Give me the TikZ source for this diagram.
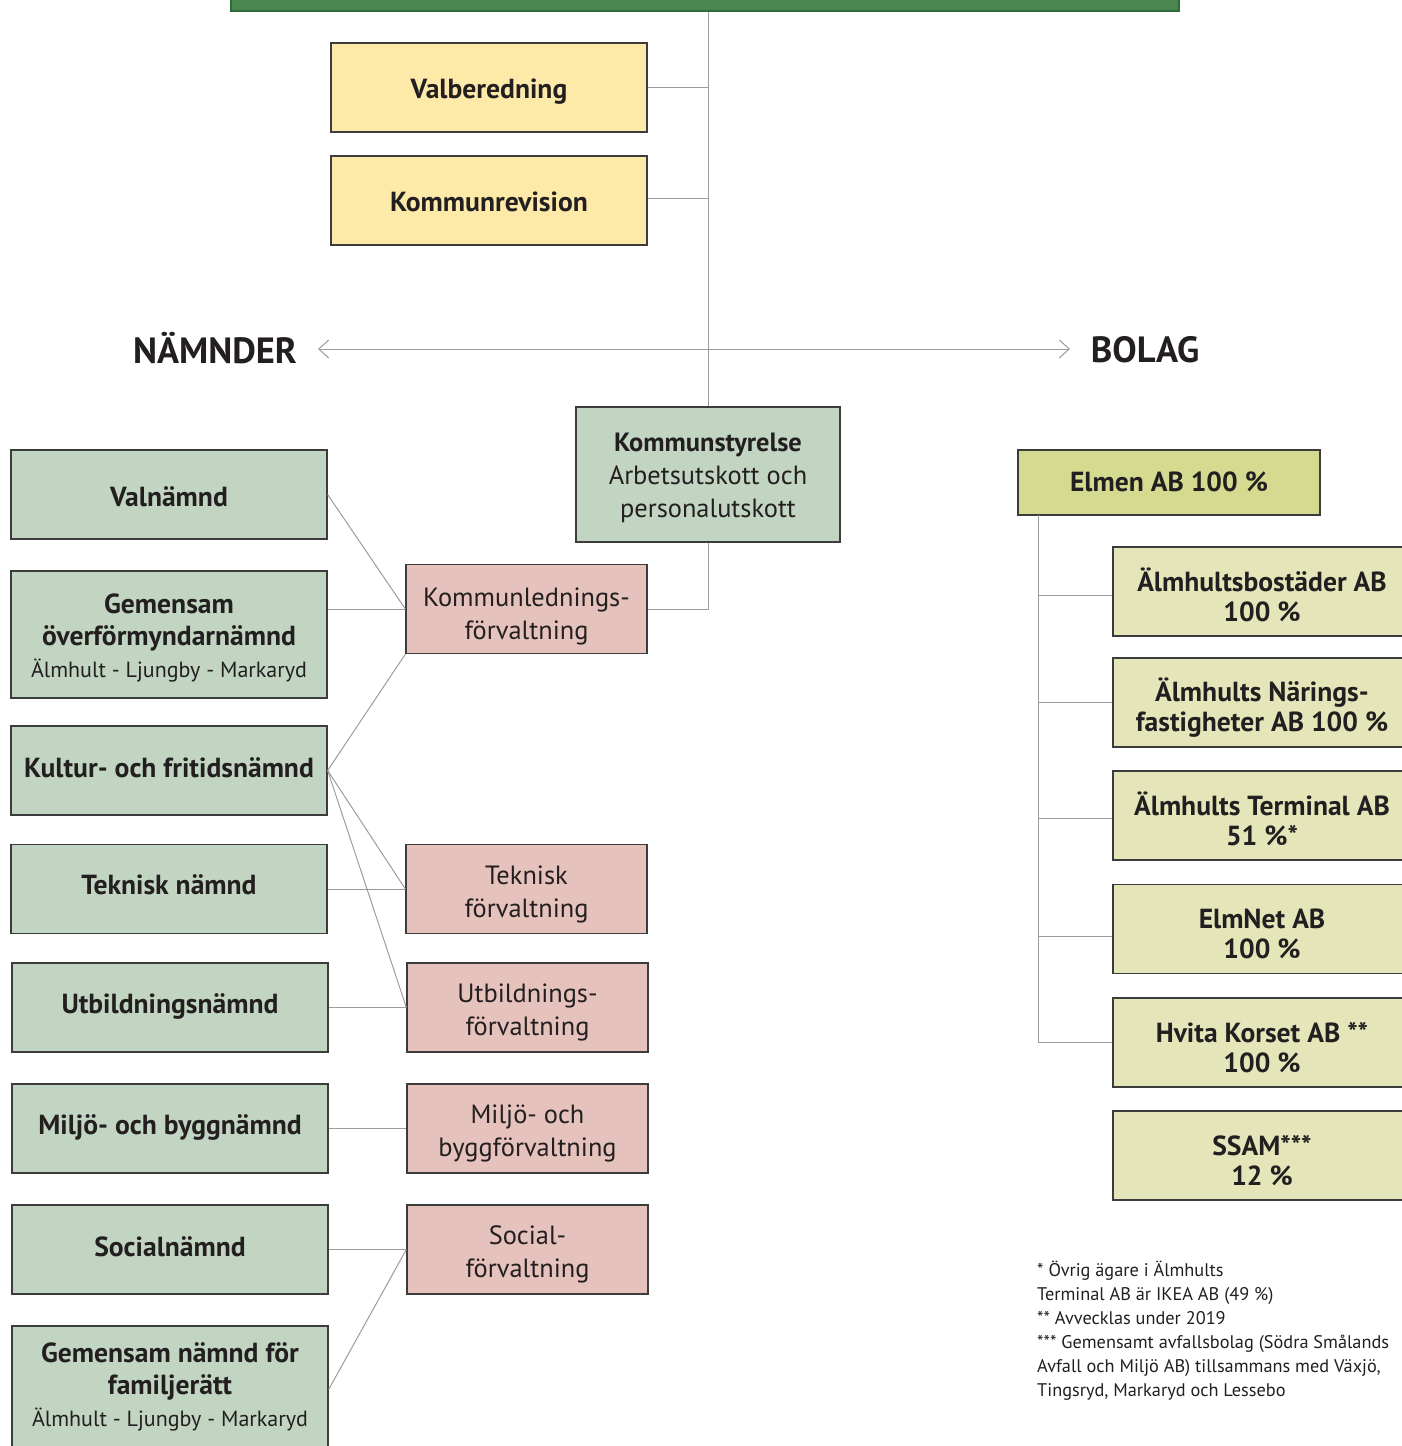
\documentclass[tikz,border=0pt]{standalone}
\usepackage{fontspec}
\setmainfont{PT Sans}
\usetikzlibrary{arrows.meta}
\definecolor{topgreen}{HTML}{4A8650}
\definecolor{topline}{HTML}{2E6B38}
\definecolor{yel}{HTML}{FDE9A8}
\definecolor{grn}{HTML}{C1D5C2}
\definecolor{pnk}{HTML}{E6C2BC}
\definecolor{elm}{HTML}{D5DA91}
\definecolor{sub}{HTML}{E4E6BA}
\definecolor{boxline}{HTML}{3C3C3C}
\definecolor{conn}{HTML}{9C9C9C}
\definecolor{txt}{HTML}{231F20}
\newcommand\myB{\fontsize{27.6}{32}\selectfont\bfseries}
\newcommand\myR{\fontsize{26.4}{33}\selectfont}
\newcommand\mySm{\fontsize{22}{33}\selectfont\mdseries}
\newcommand\myHead{\fontsize{36.5}{40}\selectfont\bfseries}
\newcommand\mySub{\fontsize{27.6}{30}\selectfont\bfseries}
\newcommand\myNote{\fontsize{18.3}{24}\selectfont}
% \bx{box style}{text font}{name}{x,y}{shift down}{text}
\newcommand\bx[6]{%
  \node[#1] (#3) at (#4) {};
  \node[tnode, font=#2] (#3t) at ([yshift=-#5pt]#3.center) {#6};}
\begin{document}
\begin{tikzpicture}[x=1pt,y=-1pt,
  box/.style={draw=boxline, line width=1.3pt, inner sep=0pt},
  tnode/.style={inner sep=0pt, align=center, text=txt},
  ybox/.style={box, fill=yel, minimum width=316pt, minimum height=89pt},
  gbox/.style={box, fill=grn, minimum width=316pt, minimum height=89pt},
  gtall/.style={gbox, minimum height=127pt},
  ksbox/.style={box, fill=grn, minimum width=264pt, minimum height=135pt},
  pbox/.style={box, fill=pnk, minimum width=241pt, minimum height=89pt},
  ebox/.style={box, fill=elm, minimum width=302pt, minimum height=65pt},
  sbox/.style={box, fill=sub, minimum width=298pt, minimum height=89pt},
  head/.style={inner sep=0pt, text=txt, font=\myHead},
  cn/.style={draw=conn, line width=1pt},
  biarrow/.style={draw=conn, line width=1pt, {Straight Barb[length=10pt,width=18pt,line width=1pt]}-{Straight Barb[length=10pt,width=18pt,line width=1pt]}}
]
\useasboundingbox (0,0) rectangle (1402,1446);
\clip (0,0) rectangle (1402,1446);

% top bar
\node[draw=topline, line width=1.5pt, fill=topgreen, minimum width=948pt, minimum height=24pt, inner sep=0pt] (top) at (705,-1) {};

% yellow
\bx{ybox}{\myB}{valb}{489,87.5}{4}{Valberedning}
\bx{ybox}{\myB}{krev}{489,200.5}{1}{Kommunrevision}

% headings
\node[head] (nam) at (215,348) {NÄMNDER};
\node[head] (bol) at (1145,350) {BOLAG};
\coordinate (al) at (318,349);
\coordinate (ar) at (1070,349);

% Kommunstyrelse
\bx{ksbox}{\myR}{ks}{708,474.5}{3.5}{{\bfseries Kommunstyrelse}\\Arbetsutskott och\\personalutskott}

% pink
\bx{pbox}{\myR}{klf}{526.5,609}{7}{Kommunlednings-\\förvaltning}
\bx{pbox}{\myR}{tekf}{526.5,889}{5}{Teknisk\\förvaltning}
\bx{pbox}{\myR}{utbf}{527.5,1007.5}{5}{Utbildnings-\\förvaltning}
\bx{pbox}{\myR}{milf}{527.5,1128.5}{5}{Miljö- och\\byggförvaltning}
\bx{pbox}{\myR}{socf}{527.5,1249.5}{5}{Social-\\förvaltning}

% green left
\bx{gbox}{\myB}{valn}{169,494.5}{2}{Valnämnd}
\bx{gtall}{\myB}{gov}{169,634.5}{3}{Gemensam\\överförmyndarnämnd\\{\mySm Älmhult - Ljungby - Markaryd}}
\bx{gbox}{\myB}{kult}{169,770.5}{-3}{Kultur- och fritidsnämnd}
\bx{gbox}{\myB}{tekn}{169,889}{-4}{Teknisk nämnd}
\bx{gbox}{\myB}{utbn}{170,1007.5}{-1}{Utbildningsnämnd}
\bx{gbox}{\myB}{miln}{170,1128.5}{-1}{Miljö- och byggnämnd}
\bx{gbox}{\myB}{socn}{170,1249.5}{-3}{Socialnämnd}
\bx{gtall}{\myB}{fam}{170,1389.5}{-3}{Gemensam nämnd för\\familjerätt\\{\mySm Älmhult - Ljungby - Markaryd}}

% bolag
\bx{ebox}{\mySub}{elmen}{1169,482.5}{-1}{Elmen AB 100 \%}
\bx{sbox}{\mySub}{c1}{1262,591.5}{3}{Älmhultsbostäder AB\\100 \%}
\bx{sbox}{\mySub}{c2}{1262,702.5}{5}{Älmhults Närings-\\fastigheter AB 100 \%}
\bx{sbox}{\mySub}{c3}{1262,815.5}{3}{Älmhults Terminal AB\\51 \%*}
\bx{sbox}{\mySub}{c4}{1262,929}{5}{ElmNet AB\\100 \%}
\bx{sbox}{\mySub}{c5}{1262,1042.5}{5}{Hvita Korset AB **\\100 \%}
\bx{sbox}{\mySub}{c6}{1262,1155.5}{5}{SSAM***\\12 \%}

% footnote
\node[anchor=north west, inner sep=0pt, align=left, text=txt, font=\myNote] (note) at (1037,1261)
 {* Övrig ägare i Älmhults\\Terminal AB är IKEA AB (49 \%)\\** Avvecklas under 2019\\*** Gemensamt avfallsbolag (Södra Smålands\\Avfall och Miljö AB) tillsammans med Växjö,\\Tingsryd, Markaryd och Lessebo};

% connectors top
\draw[cn] (ks.north |- top.south) -- (ks.north);
\draw[cn] (valb.east) -- (valb.east -| ks.north);
\draw[cn] ([yshift=2pt]krev.east) -- ([yshift=2pt]krev.east -| ks.north);
\draw[cn] (ks.south) |- (klf.east);
\draw[biarrow] (al) -- (ar);

% left connectors
\draw[cn] (valn.east) -- (klf.west);
\draw[cn] (klf.west -| gov.east) -- (klf.west);
\draw[cn] (kult.east) -- (klf.south west);
\draw[cn] (kult.east) -- (tekf.west);
\draw[cn] (kult.east) -- (utbf.west);
\draw[cn] (tekf.west -| tekn.east) -- (tekf.west);
\draw[cn] (utbn.east) -- (utbf.west);
\draw[cn] (miln.east) -- (milf.west);
\draw[cn] (socn.east) -- (socf.west);
\draw[cn] (fam.east) -- (socf.west);

% bolag connectors
\coordinate (sp) at (1038,515);
\draw[cn] (sp) |- (c5.west);
\foreach \c/\d in {c1/4,c2/0,c3/3,c4/7}{\draw[cn] ([yshift=-\d pt]\c.west -| sp) -- ([yshift=-\d pt]\c.west);}
\end{tikzpicture}
\end{document}
